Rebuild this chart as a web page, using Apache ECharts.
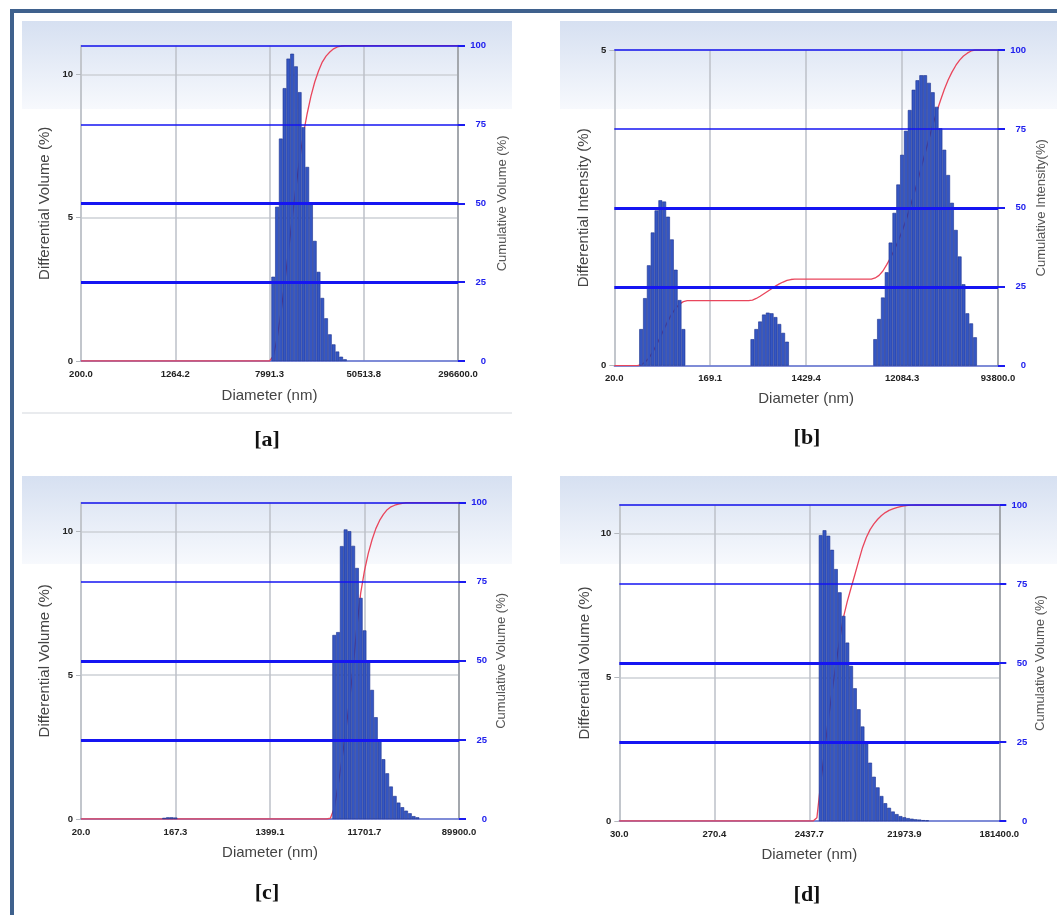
<!DOCTYPE html>
<html><head><meta charset="utf-8">
<script src="https://cdn.jsdelivr.net/npm/echarts@6/dist/echarts.min.js"></script>
<style>html,body{margin:0;padding:0;background:#fff}#c{width:1057px;height:915px}</style>
</head><body><div id="c"></div>
<script>
// ---- tick labels (log-spaced diameters, nm) ----
const ticksA = ['200.0','1264.2','7991.3','50513.8','296600.0'];
const ticksB = ['20.0','169.1','1429.4','12084.3','93800.0'];
const ticksC = ['20.0','167.3','1399.1','11701.7','89900.0'];
const ticksD = ['30.0','270.4','2437.7','21973.9','181400.0'];
const binsPerTick = 25; // histogram bins between two labelled ticks

// ---- differential values (%), one per bin, starting at the given bin ----
const barsAStart = 51;
const barsA = [2.94,5.38,7.76,9.52,10.55,10.72,10.28,9.38,8.16,6.77,5.49,4.19,3.11,2.2,1.49,0.93,0.58,0.33,0.15,0.06];
const barsB1Start = 7;
const barsB1 = [0.58,1.07,1.59,2.11,2.46,2.62,2.6,2.36,2.0,1.52,1.04,0.58];
const barsB2Start = 36;
const barsB2 = [0.42,0.58,0.70,0.81,0.84,0.83,0.77,0.66,0.52,0.38];
const barsB3Start = 68;
const barsB3 = [0.42,0.74,1.08,1.48,1.95,2.42,2.87,3.34,3.72,4.05,4.37,4.52,4.6,4.6,4.48,4.33,4.1,3.76,3.42,3.02,2.58,2.15,1.73,1.29,0.83,0.67,0.45];
const barsC1Start = 22;
const barsC1 = [0.04,0.06,0.06,0.05];
const barsC2Start = 67;
const barsC2 = [6.4,6.5,9.49,10.07,10.01,9.5,8.73,7.69,6.56,5.48,4.49,3.54,2.75,2.08,1.59,1.13,0.8,0.57,0.41,0.29,0.2,0.1,0.06];
const barsDStart = 53;
const barsD = [9.95,10.12,9.93,9.44,8.77,7.96,7.14,6.21,5.4,4.62,3.89,3.29,2.71,2.03,1.54,1.17,0.87,0.62,0.46,0.33,0.24,0.17,0.13,0.1,0.08,0.06,0.05,0.03,0.02];

// ---- cumulative curves (%): [bin, value] ----
const cumA = [[0,0],[50,0],[51,1.5],[52,7],[53,15],[54,24.5],[55,34.5],[56,45],[57,55],[58,64],[59,72],[60,78.5],[61,84],[62,88.5],[63,92],[64,94.8],[65,96.7],[66,98],[67,99],[68,99.6],[69,99.9],[70,100],[100,100]];
const cumB = [[0,0],[6,0],[7,0.3],[8,1.1],[9,2.4],[10,4.3],[11,6.6],[12,9.1],[13,11.7],[14,14.2],[15,16.4],[16,18.2],[17,19.5],[18,20.3],[19,20.6],[35,20.6],[36,20.8],[37,21.3],[38,22],[39,22.8],[40,23.6],[41,24.4],[42,25.2],[43,25.9],[44,26.5],[45,27],[46,27.3],[47,27.4],[67,27.4],[68,27.8],[69,28.6],[70,30],[71,32],[72,34.2],[73,36.7],[74,39.5],[75,42.6],[76,46],[77,49.8],[78,53.9],[79,58.2],[80,62.8],[81,67.3],[82,71.8],[83,76.2],[84,80.3],[85,84],[86,87.5],[87,90.5],[88,93],[89,95.1],[90,96.8],[91,98.1],[92,99],[93,99.7],[94,100],[100,100]];
const cumC = [[0,0],[65,0],[66,0.3],[67,3.5],[68,10.5],[69,18.5],[70,27.5],[71,37],[72,48],[73,61],[74,71.5],[75,78.5],[76,84],[77,88.3],[78,91.8],[79,94.4],[80,96.3],[81,97.8],[82,98.7],[83,99.2],[84,99.55],[85,99.8],[86,100],[100,100]];
const cumD = [[0,0],[51,0],[52,1],[53,12],[54,22],[55,32],[56,41],[57,49.5],[58,57.5],[59,64.5],[60,69.5],[61,73.8],[62,78],[63,82.3],[64,86.5],[65,89.7],[66,92.2],[67,94],[68,95.5],[69,96.7],[70,97.6],[71,98.3],[72,98.8],[73,99.2],[74,99.5],[75,99.7],[76,99.85],[77,99.95],[78,100],[100,100]];

const nCats = binsPerTick * (ticksA.length - 1) + 1;
const cats = Array.from({length: nCats}, (_, i) => String(i));
function fillBins(groups) {
  const arr = new Array(nCats).fill(null);
  groups.forEach(([start, vals]) => vals.forEach((v, i) => { arr[start + i] = v; }));
  return arr;
}

const panels = [
  {grid:{left:81, top:45.7, width:377, height:315.3}, ticks:ticksA, leftMax:11,
   leftName:'Differential Volume (%)', rightName:'Cumulative Volume (%)', leftGap:29, rightGap:38, xGap:27,
   bars:fillBins([[barsAStart,barsA]]), cum:cumA},
  {grid:{left:614.3, top:50, width:383.7, height:315.7}, ticks:ticksB, leftMax:5,
   leftName:'Differential Intensity (%)', rightName:'Cumulative Intensity(%)', leftGap:23, rightGap:37, xGap:26,
   bars:fillBins([[barsB1Start,barsB1],[barsB2Start,barsB2],[barsB3Start,barsB3]]), cum:cumB},
  {grid:{left:81, top:502.7, width:378, height:316.3}, ticks:ticksC, leftMax:11,
   leftName:'Differential Volume (%)', rightName:'Cumulative Volume (%)', leftGap:29, rightGap:36, xGap:26,
   bars:fillBins([[barsC1Start,barsC1],[barsC2Start,barsC2]]), cum:cumC},
  {grid:{left:619.3, top:505, width:380, height:316}, ticks:ticksD, leftMax:11,
   leftName:'Differential Volume (%)', rightName:'Cumulative Volume (%)', leftGap:27, rightGap:35, xGap:26,
   bars:fillBins([[barsDStart,barsD]]), cum:cumD}
];

const FONT = 'Liberation Sans';
const grids = [], xAxes = [], yAxes = [], series = [];
panels.forEach((p, k) => {
  grids.push(Object.assign({outerBoundsMode:'none', containLabel:false}, p.grid));
  const showIdx = (i) => i % binsPerTick === 0;
  xAxes.push({
    type:'category', gridIndex:k, data:cats, boundaryGap:false,
    axisLine:{show:true, lineStyle:{color:'#6172d4', width:1.5}},
    axisTick:{show:false},
    axisLabel:{interval:(i)=>showIdx(i), formatter:(v)=>p.ticks[Number(v)/binsPerTick],
      color:'#222', fontSize:9.5, fontWeight:'bold', fontFamily:FONT, margin:8},
    splitLine:{show:true, interval:(i)=>showIdx(i), lineStyle:{color:'#bcc1c8', width:1.5}},
    name:'Diameter (nm)', nameLocation:'middle', nameGap:p.xGap,
    nameTextStyle:{color:'#444', fontSize:15, fontFamily:FONT}
  });
  yAxes.push({
    type:'value', gridIndex:k, position:'left', min:0, max:p.leftMax, interval:5,
    axisLine:{show:true, lineStyle:{color:'#c2c6cc', width:2}},
    axisTick:{show:true, length:5, lineStyle:{color:'#b4b8be'}},
    axisLabel:{color:'#222', fontSize:9.5, fontWeight:'bold', fontFamily:FONT, margin:8, showMaxLabel: p.leftMax % 5 === 0},
    splitLine:{show:true, lineStyle:{color:'#cdd0d6', width:1.5}},
    name:p.leftName, nameLocation:'middle', nameGap:p.leftGap, nameRotate:90,
    nameTextStyle:{color:'#444', fontSize:15, fontFamily:FONT}
  });
  yAxes.push({
    type:'value', gridIndex:k, position:'right', min:0, max:100, interval:25,
    axisLine:{show:true, lineStyle:{color:'#a3a7ad', width:2}},
    axisTick:{show:true, length:7, lineStyle:{color:'#1a1af0', width:2}},
    axisLabel:{color:'#2020ee', fontSize:9.5, fontWeight:'bold', fontFamily:FONT, margin:28, align:'right'},
    splitLine:{show:false},
    name:p.rightName, nameLocation:'middle', nameGap:p.rightGap, nameRotate:90,
    nameTextStyle:{color:'#555', fontSize:13, fontFamily:FONT}
  });
  series.push({
    type:'line', xAxisIndex:k, yAxisIndex:2*k+1, data:p.cum, symbol:'none', z:1,
    lineStyle:{color:'#e9465c', width:1.3}, animation:false, silent:true,
    markLine:{silent:true, symbol:['none','none'], label:{show:false}, z:5, animation:false,
      lineStyle:{color:'#1515f2', type:'solid'},
      data:[{yAxis:25, lineStyle:{width:3}}, {yAxis:50, lineStyle:{width:3}},
            {yAxis:75, lineStyle:{width:1.6}}, {yAxis:100, lineStyle:{width:1.6}}]}
  });
  series.push({
    type:'bar', xAxisIndex:k, yAxisIndex:2*k, data:p.bars, barWidth:'100%', z:2,
    itemStyle:{color:'#3556c2', borderColor:'#1d328f', borderWidth:0.6}, animation:false, silent:true
  });
});

function bgRect(x, y, w) {
  return {type:'rect', z:-10, silent:true, shape:{x:x, y:y, width:w, height:88},
    style:{fill:new echarts.graphic.LinearGradient(0,0,0,1,[{offset:0,color:'#d6e0f1'},{offset:1,color:'#f7f9fd'}])}};
}
function caption(t, x, y) {
  return {type:'text', z:100, silent:true, x:x, y:y,
    style:{text:t, font:'bold 22px "Liberation Serif"', fill:'#111', textAlign:'center', textVerticalAlign:'middle'}};
}

const chart = echarts.init(document.getElementById('c'), null, {renderer:'canvas'});
chart.setOption({
  animation:false,
  backgroundColor:'#fff',
  grid:grids, xAxis:xAxes, yAxis:yAxes, series:series,
  graphic:[
    bgRect(22,21,490), bgRect(560,21,497), bgRect(22,476,490), bgRect(560,476,497),
    {type:'line', z:-9, silent:true, shape:{x1:22,y1:413,x2:512,y2:413}, style:{stroke:'#e2e4e8', lineWidth:1.5}},
    {type:'rect', z:50, silent:true, shape:{x:12,y:11,width:1060,height:920}, style:{fill:'none', stroke:'#3f618d', lineWidth:4}},
    caption('[a]',267,440), caption('[b]',807,438), caption('[c]',267,893), caption('[d]',807,895)
  ]
});
</script>
</body></html>
